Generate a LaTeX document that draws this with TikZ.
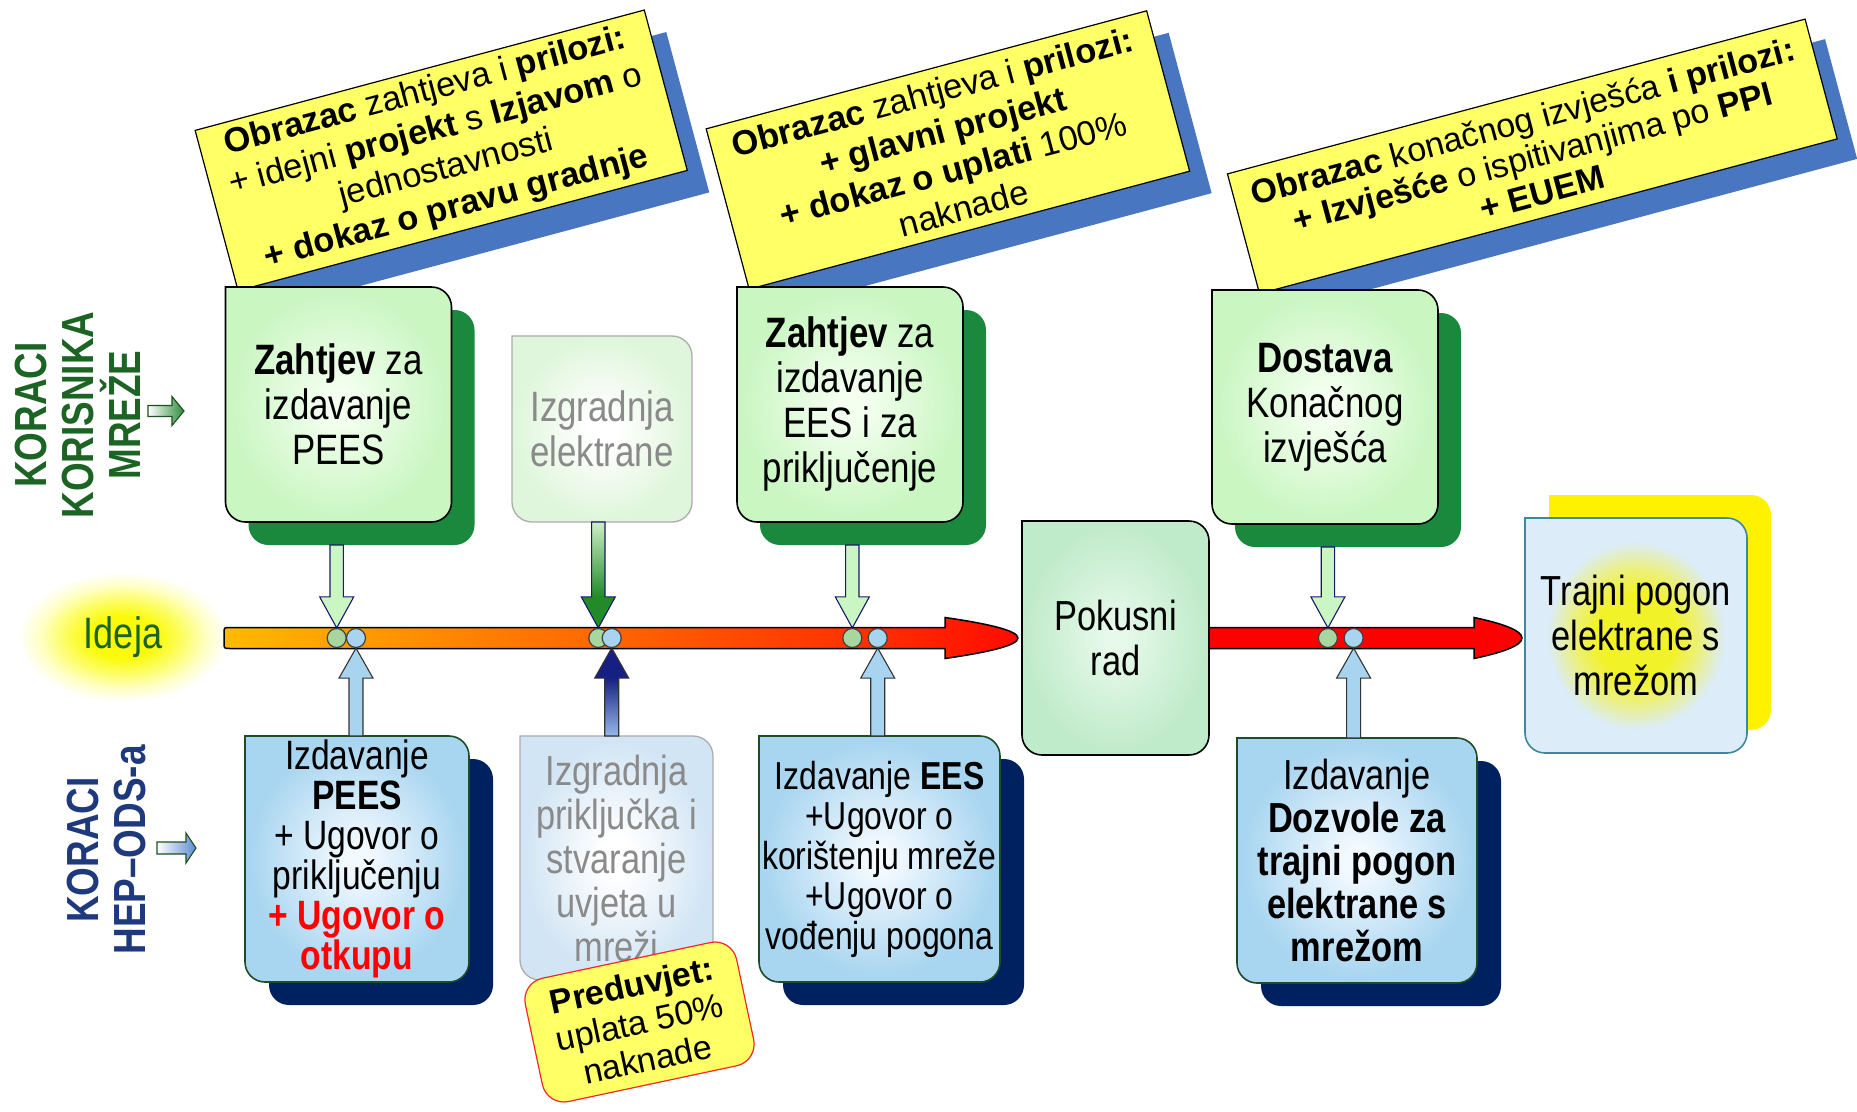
\documentclass[tikz,border=0pt]{standalone}
\usepackage{fontspec}
\setmainfont{Liberation Sans}
\newfontfamily\narrowsans[FakeStretch=0.82]{Liberation Sans}
\usetikzlibrary{calc,shapes.geometric}

% ---------- colours ----------
\definecolor{cyellow}{RGB}{255,255,102}
\definecolor{cshadow}{RGB}{72,118,192}
\definecolor{gshadow}{RGB}{27,137,61}
\definecolor{bshadow}{RGB}{0,33,96}
\definecolor{gcenter}{RGB}{244,255,240}
\definecolor{gedge}{RGB}{202,246,194}
\definecolor{bcenter}{RGB}{242,249,255}
\definecolor{bedge}{RGB}{168,213,240}
\definecolor{pcenter}{RGB}{230,249,234}
\definecolor{pedge}{RGB}{192,235,202}
\definecolor{fgedge}{RGB}{224,246,220}
\definecolor{fbedge}{RGB}{210,229,244}
\definecolor{tjcenter}{RGB}{242,242,40}
\definecolor{tjmid}{RGB}{236,240,120}
\definecolor{tjedge}{RGB}{220,236,248}
\definecolor{tjline}{RGB}{62,136,156}
\definecolor{bline}{RGB}{30,75,40}
\definecolor{fadeline}{RGB}{172,172,172}
\definecolor{fadetext}{RGB}{138,138,138}
\definecolor{kgreen}{RGB}{28,100,36}
\definecolor{kblue}{RGB}{30,58,125}
\definecolor{dotg}{RGB}{168,214,158}
\definecolor{dotb}{RGB}{168,212,240}
\definecolor{argfill}{RGB}{202,246,196}
\definecolor{arnavy}{RGB}{25,25,105}
\definecolor{arbfill}{RGB}{168,212,240}
\definecolor{ardkgreen}{RGB}{34,139,40}
\definecolor{arltgreen}{RGB}{205,240,200}
\definecolor{arnavyfill}{RGB}{22,32,130}
\definecolor{arltblue}{RGB}{150,185,232}
\definecolor{ideayellow}{RGB}{250,250,10}
\definecolor{ideamid}{RGB}{253,253,100}
\definecolor{ideapale}{RGB}{255,255,200}
\definecolor{tbA}{RGB}{255,186,0}
\definecolor{tbB}{RGB}{255,128,0}
\definecolor{tbC}{RGB}{255,82,0}
\definecolor{tbD}{RGB}{255,42,0}
\definecolor{tbE}{RGB}{255,12,0}
\definecolor{predline}{RGB}{240,40,40}
\definecolor{karrowg}{RGB}{45,140,60}
\definecolor{karrowb}{RGB}{95,140,210}
\definecolor{karrowline}{RGB}{30,80,30}

% ---------- shadings (the path's box covers the central 50bp of a shading) ----------
\pgfdeclareradialshading{greenglow}{\pgfpoint{0bp}{0bp}}{color(0bp)=(gcenter); color(3bp)=(gcenter); color(24bp)=(gedge); color(50bp)=(gedge)}
\pgfdeclareradialshading{blueglow}{\pgfpoint{0bp}{0bp}}{color(0bp)=(bcenter); color(3bp)=(bcenter); color(24bp)=(bedge); color(50bp)=(bedge)}
\pgfdeclareradialshading{mintglow}{\pgfpoint{0bp}{0bp}}{color(0bp)=(pcenter); color(3bp)=(pcenter); color(24bp)=(pedge); color(50bp)=(pedge)}
\pgfdeclareradialshading{fadegreen}{\pgfpoint{0bp}{0bp}}{color(0bp)=(white); color(4bp)=(white); color(24bp)=(fgedge); color(50bp)=(fgedge)}
\pgfdeclareradialshading{fadeblue}{\pgfpoint{0bp}{0bp}}{color(0bp)=(white); color(4bp)=(white); color(24bp)=(fbedge); color(50bp)=(fbedge)}
\pgfdeclareradialshading{sunglow}{\pgfpoint{0bp}{0bp}}{color(0bp)=(tjcenter); color(9bp)=(tjcenter); color(14bp)=(tjmid); color(20bp)=(tjedge); color(50bp)=(tjedge)}
\pgfdeclareradialshading{ideaglow}{\pgfpoint{0bp}{0bp}}{color(0bp)=(ideayellow); color(8bp)=(ideayellow); color(14bp)=(ideamid); color(20bp)=(ideapale); color(25bp)=(white); color(50bp)=(white)}
\pgfdeclarehorizontalshading{timebar}{100bp}{color(0bp)=(tbA); color(25bp)=(tbA); color(41bp)=(tbB); color(55bp)=(tbC); color(67bp)=(tbD); color(75bp)=(tbE); color(100bp)=(tbE)}
\pgfdeclareverticalshading{dngrad}{100bp}{color(0bp)=(ardkgreen); color(40bp)=(ardkgreen); color(75bp)=(arltgreen); color(100bp)=(arltgreen)}
\pgfdeclareverticalshading{upgrad}{100bp}{color(0bp)=(arltblue); color(25bp)=(arltblue); color(58bp)=(arnavyfill); color(100bp)=(arnavyfill)}

% ---------- box with a square top-left corner, other corners rounded ----------
\makeatletter
\newdimen\tbL \newdimen\tbR \newdimen\tbT \newdimen\tbB \newdimen\tbX
\pgfdeclareshape{tabbox}{%
  \inheritsavedanchors[from=rectangle]%
  \inheritanchorborder[from=rectangle]%
  \inheritanchor[from=rectangle]{center}%
  \inheritanchor[from=rectangle]{text}%
  \inheritanchor[from=rectangle]{base}%
  \inheritanchor[from=rectangle]{mid}%
  \inheritanchor[from=rectangle]{north}%
  \inheritanchor[from=rectangle]{south}%
  \inheritanchor[from=rectangle]{east}%
  \inheritanchor[from=rectangle]{west}%
  \inheritanchor[from=rectangle]{north east}%
  \inheritanchor[from=rectangle]{north west}%
  \inheritanchor[from=rectangle]{south east}%
  \inheritanchor[from=rectangle]{south west}%
  \backgroundpath{%
    \southwest\tbL=\pgf@x\tbB=\pgf@y
    \northeast\tbR=\pgf@x\tbT=\pgf@y
    \tbX=\tbL\advance\tbX by 30pt
    \pgfpathmoveto{\pgfqpoint{\tbX}{\tbT}}%
    \pgfsetcornersarced{\pgfqpoint{20pt}{20pt}}%
    \pgfpathlineto{\pgfqpoint{\tbR}{\tbT}}%
    \pgfpathlineto{\pgfqpoint{\tbR}{\tbB}}%
    \pgfpathlineto{\pgfqpoint{\tbL}{\tbB}}%
    \tbX=\tbT\advance\tbX by -30pt
    \pgfpathlineto{\pgfqpoint{\tbL}{\tbX}}%
    \pgfsetcornersarced{\pgfpointorigin}%
    \pgfpathlineto{\pgfqpoint{\tbL}{\tbT}}%
    \tbX=\tbL\advance\tbX by 30pt
    \pgfpathlineto{\pgfqpoint{\tbX}{\tbT}}%
    \pgfpathclose
  }%
}
\makeatother

% block arrows: #1 start of the shaft, #2 tip, #3 style
\newcommand\blockdown[3]{%
  \draw[#3] ($(#1)+(-6.7,0)$) -- ($(#2)+(-6.7,-31)$) -- ($(#2)+(-17,-31)$) -- (#2)
    -- ($(#2)+(17,-31)$) -- ($(#2)+(6.7,-31)$) -- ($(#1)+(6.7,0)$) -- cycle;}
\newcommand\blockup[3]{%
  \draw[#3] ($(#1)+(-7,0)$) -- ($(#2)+(-7,30)$) -- ($(#2)+(-17,30)$) -- (#2)
    -- ($(#2)+(17,30)$) -- ($(#2)+(7,30)$) -- ($(#1)+(7,0)$) -- cycle;}

\begin{document}
\begin{tikzpicture}[x=1pt,y=-1pt,
  callout/.style={draw=black, line width=1.2, fill=cyellow, align=center,
    inner sep=0pt, outer sep=0pt, font=\fontsize{34.5}{40}\selectfont},
  callshade/.style={fill=cshadow, inner sep=0pt, outer sep=0pt},
  gshade/.style={fill=gshadow, rounded corners=20, inner sep=0pt, outer sep=0pt},
  bshade/.style={fill=bshadow, rounded corners=20, inner sep=0pt, outer sep=0pt},
  boxbase/.style={tabbox, inner sep=0pt, outer sep=0pt, align=center, line width=1.6, shade},
  topbox/.style={boxbase, draw=black, shading=greenglow,
    font=\narrowsans\fontsize{42.5}{45}\selectfont},
  fadetop/.style={boxbase, draw=fadeline, line width=1.3, shading=fadegreen, text=fadetext,
    font=\narrowsans\fontsize{42.5}{45}\selectfont},
  trialbox/.style={boxbase, draw=black, shading=mintglow,
    font=\narrowsans\fontsize{42}{45}\selectfont},
  finalbox/.style={boxbase, draw=tjline, shading=sunglow,
    font=\narrowsans\fontsize{42}{45}\selectfont},
  finalshade/.style={tabbox, fill=yellow, inner sep=0pt, outer sep=0pt},
  lowbox/.style={boxbase, draw=bline, shading=blueglow},
  fadelow/.style={boxbase, draw=fadeline, line width=1.3, shading=fadeblue, text=fadetext,
    font=\narrowsans\fontsize{42}{44}\selectfont},
  precond/.style={draw=predline, line width=1.2, fill=cyellow, rounded corners=22,
    align=center, inner sep=0pt, outer sep=0pt, font=\fontsize{34}{38}\selectfont},
  rowlabel/.style={align=center, inner sep=0pt, rotate=90,
    font=\narrowsans\bfseries\fontsize{45}{47}\selectfont},
  dotgreen/.style={circle, draw=black!75, line width=1.2, fill=dotg, minimum size=19, inner sep=0pt},
  dotblue/.style={circle, draw=black!75, line width=1.2, fill=dotb, minimum size=19, inner sep=0pt},
  dnarrow/.style={draw=arnavy, line width=1.1, fill=argfill},
  dnarrowdark/.style={draw=arnavy, line width=1.1, shade, shading=dngrad},
  uparrow/.style={draw=black!80, line width=1.1, fill=arbfill},
  uparrowdark/.style={draw=black!80, line width=1.1, shade, shading=upgrad},
  timeline/.style={draw=black, line width=1.5, shade, shading=timebar},
  redline/.style={draw=black, line width=1.5, fill=red},
  rowarrow/.style={draw=karrowline, line width=1.1}
]
\useasboundingbox (0,0) rectangle (1857,1111);
\fill[white] (0,0) rectangle (1857,1111);
\clip (0,0) rectangle (1857,1111);

% ---------- starting point ----------
\node[ellipse, shade, shading=ideaglow, minimum width=210, minimum height=130, inner sep=0pt,
      text=kgreen, font=\narrowsans\fontsize{44}{46}\selectfont] (idea) at (123,637) {Ideja};

% ---------- row labels ----------
\node[rowlabel, text=kgreen] (rowuser) at (78,415) {KORACI\\KORISNIKA\\MREŽE};
\node[rowlabel, text=kblue] (rowods) at (106.5,850) {KORACI\\HEP–ODS-a};

\coordinate (ka1) at (148,411); \coordinate (ka2) at (184,411);
\draw[rowarrow, left color=white, right color=karrowg]
  ($(ka1)+(0,-5.5)$) -- ($(ka2)+(-12,-5.5)$) -- ($(ka2)+(-12,-14.5)$) -- (ka2)
  -- ($(ka2)+(-12,14.5)$) -- ($(ka2)+(-12,5.5)$) -- ($(ka1)+(0,5.5)$) -- cycle;
\coordinate (kb1) at (157,848); \coordinate (kb2) at (196,848);
\draw[rowarrow, left color=white, right color=karrowb]
  ($(kb1)+(0,-6)$) -- ($(kb2)+(-10,-6)$) -- ($(kb2)+(-10,-15)$) -- (kb2)
  -- ($(kb2)+(-10,15)$) -- ($(kb2)+(-10,6)$) -- ($(kb1)+(0,6)$) -- cycle;

% ---------- documents to hand in ----------
\node[callshade, rotate=15, minimum width=465, minimum height=166] (c1s) at (463.2,172.4) {};
\node[callout, rotate=15, minimum width=465, minimum height=166] (c1) at (441.2,150.4)
  {\textbf{Obrazac} zahtjeva i \textbf{prilozi:}\\+ idejni \textbf{projekt} s \textbf{Izjavom} o\\jednostavnosti\\\textbf{+ dokaz o pravu gradnje}};
\node[callshade, rotate=15, minimum width=456, minimum height=166] (c2s) at (969.9,172) {};
\node[callout, rotate=15, minimum width=456, minimum height=166] (c2) at (947.9,150)
  {\textbf{Obrazac} zahtjeva i \textbf{prilozi:}\\\textbf{+ glavni projekt}\\\textbf{+ dokaz o uplati} 100\%\\naknade};
\node[callshade, rotate=15, minimum width=598, minimum height=124] (c3s) at (1552.3,176.4) {};
\node[callout, rotate=15, minimum width=598, minimum height=124, font=\fontsize{34}{37}\selectfont] (c3) at (1532.3,156.4)
  {\textbf{Obrazac} konačnog izvješća \textbf{i prilozi:}\\\textbf{+ Izvješće} o ispitivanjima po \textbf{PPI}\\\textbf{+ EUEM}};

% ---------- steps of the network user ----------
\node[gshade, minimum width=226, minimum height=235] (z1s) at (361.5,427.5) {};
\node[topbox, minimum width=226, minimum height=235] (z1) at (338.5,404.5)
  {\textbf{Zahtjev} za\\izdavanje\\PEES};
\node[fadetop, minimum width=180, minimum height=186] (e1) at (602,429)
  {Izgradnja\\elektrane};
\node[gshade, minimum width=226, minimum height=235] (z2s) at (873,427.5) {};
\node[topbox, minimum width=226, minimum height=235] (z2) at (850,404.5)
  {\textbf{Zahtjev} za\\izdavanje\\EES i za\\priključenje};
\node[gshade, minimum width=226, minimum height=234] (d1s) at (1348,430) {};
\node[topbox, minimum width=226, minimum height=234] (d1) at (1325,407)
  {\textbf{Dostava}\\Konačnog\\izvješća};

% ---------- trial run and permanent operation ----------
\node[trialbox, minimum width=187, minimum height=234] (pok) at (1115.5,638) {Pokusni\\rad};
\node[finalshade, minimum width=222, minimum height=235] (trajs) at (1660,612.5) {};
\node[finalbox, minimum width=222, minimum height=235] (traj) at (1636,635.5)
  {Trajni pogon\\elektrane s\\mrežom};

% ---------- steps of HEP-ODS ----------
\node[bshade, minimum width=224, minimum height=246] (b1s) at (381,882) {};
\node[lowbox, minimum width=224, minimum height=246, font=\narrowsans\fontsize{41}{40}\selectfont] (b1) at (357,859)
  {Izdavanje\\\textbf{PEES}\\+ Ugovor o\\priključenju\\\textcolor{red}{\textbf{+ Ugovor o}}\\\textcolor{red}{\textbf{otkupu}}};
\node[fadelow, minimum width=193, minimum height=244] (e2) at (616.5,858)
  {Izgradnja\\priključka i\\stvaranje\\uvjeta u\\mreži};
\node[bshade, minimum width=241, minimum height=246] (b2s) at (903.5,882) {};
\node[lowbox, minimum width=241, minimum height=246, font=\narrowsans\fontsize{39}{40}\selectfont] (b2) at (879.5,859)
  {Izdavanje \textbf{EES}\\+Ugovor o\\korištenju mreže\\+Ugovor o\\vođenju pogona};
\node[bshade, minimum width=240, minimum height=245] (b3s) at (1381,883.5) {};
\node[lowbox, minimum width=240, minimum height=245, font=\narrowsans\bfseries\fontsize{42}{43}\selectfont] (b3) at (1357,860.5)
  {\mdseries Izdavanje\\Dozvole za\\trajni pogon\\elektrane s\\mrežom};

% ---------- time line ----------
\coordinate (tl0) at (224,638);
\coordinate (tip1) at ($(pok.west)+(-4,0)$);
\coordinate (tip2) at ($(traj.west |- pok.east)+(-3,0)$);
\path[timeline] ($(tl0)+(6,-10.5)$) -- ($(tip1)+(-73,-10.5)$) -- ($(tip1)+(-73,-20.5)$)
  .. controls ($(tip1)+(-35,-15)$) and ($(tip1)+(0,-8)$) .. (tip1)
  .. controls ($(tip1)+(0,8)$) and ($(tip1)+(-35,15)$) .. ($(tip1)+(-73,20.5)$)
  -- ($(tip1)+(-73,10.5)$) -- ($(tl0)+(6,10.5)$)
  .. controls ($(tl0)+(0,10.5)$) .. ($(tl0)+(0,4.5)$) -- ($(tl0)+(0,-4.5)$)
  .. controls ($(tl0)+(0,-10.5)$) .. ($(tl0)+(6,-10.5)$) -- cycle;
\path[redline] ($(pok.east)+(0,-10.5)$) -- ($(tip2)+(-48,-10.5)$) -- ($(tip2)+(-48,-20.5)$)
  .. controls ($(tip2)+(-22,-15)$) and ($(tip2)+(0,-8)$) .. (tip2)
  .. controls ($(tip2)+(0,8)$) and ($(tip2)+(-22,15)$) .. ($(tip2)+(-48,20.5)$)
  -- ($(tip2)+(-48,10.5)$) -- ($(pok.east)+(0,10.5)$) -- cycle;

% ---------- milestones on the time line ----------
\node[dotgreen] (g1) at (336.7,638) {};
\node[dotblue]  (u1) at (356,638) {};
\node[dotgreen] (g2) at (598.3,638) {};
\node[dotblue]  (u2) at (611.7,638) {};
\node[dotgreen] (g3) at (852.3,638) {};
\node[dotblue]  (u3) at (877.7,638) {};
\node[dotgreen] (g4) at (1327.9,638) {};
\node[dotblue]  (u4) at (1353.6,638) {};

% ---------- links from the steps to the milestones ----------
\blockdown{g1.north |- z1s.south}{g1.north}{dnarrow}
\blockdown{g2.north |- e1.south}{g2.north}{dnarrowdark}
\blockdown{g3.north |- z2s.south}{g3.north}{dnarrow}
\blockdown{g4.north |- d1s.south}{g4.north}{dnarrow}
\blockup{u1.south |- b1.north}{u1.south}{uparrow}
\blockup{u2.south |- e2.north}{u2.south}{uparrowdark}
\blockup{u3.south |- b2.north}{u3.south}{uparrow}
\blockup{u4.south |- b3.north}{u4.south}{uparrow}

% ---------- precondition note ----------
\node[precond, rotate=12, minimum width=216, minimum height=126] (pre) at (639.5,1022)
  {\textbf{Preduvjet:}\\uplata 50\%\\naknade};
\end{tikzpicture}
\end{document}
